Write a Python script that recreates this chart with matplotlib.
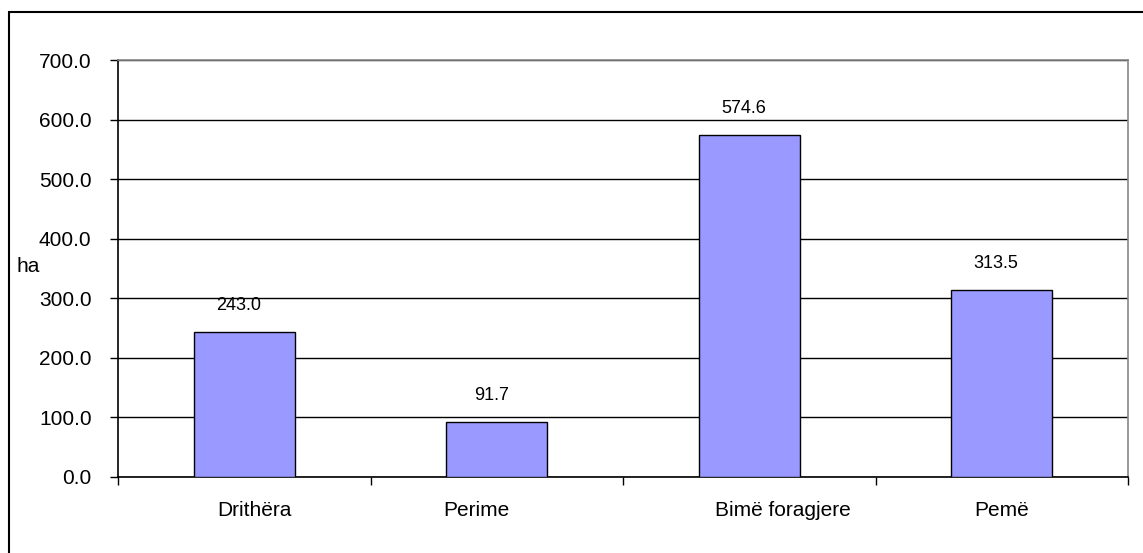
import matplotlib
matplotlib.use("Agg")
import matplotlib.pyplot as plt
from matplotlib.patches import Rectangle

plt.rcParams['font.family'] = ['Liberation Sans', 'DejaVu Sans']

# data
categories = ['Drithëra', 'Perime', 'Bimë foragjere', 'Pemë']
values = [243.0, 91.7, 574.6, 313.5]
yticks = [0, 100, 200, 300, 400, 500, 600, 700]

# the category labels are not centred under the bars in the original (points)
label_shift = [7, -15, 24, 0]

W, H = 1143, 553
fig = plt.figure(figsize=(W / 100, H / 100), dpi=100)

# plot area in pixels: left 118, top 60, right 1128, bottom 477
ax = fig.add_axes([118 / W, 1 - 477 / H, (1128 - 118) / W, (477 - 60) / H])

x = list(range(len(categories)))
ax.bar(x, values, width=0.4, color='#9999FF', edgecolor='black', linewidth=1, zorder=3)

for xi, v in zip(x, values):
    ax.annotate('%.1f' % v, (xi, v), xytext=(-4, 13), textcoords='offset points',
                ha='center', va='bottom', fontsize=13)

ax.set_xlim(-0.5, len(categories) - 0.5)
ax.set_ylim(0, 700)
ax.set_yticks(yticks)
ax.set_yticklabels(['%.1f' % t for t in yticks], fontsize=15)
ax.yaxis.grid(True, color='black', linewidth=1, zorder=0)
ax.set_axisbelow(True)

# category ticks sit between the categories
ax.set_xticks([i - 0.5 for i in range(len(categories) + 1)])
ax.set_xticklabels([])
ax.tick_params(axis='x', which='major', length=6, width=1, direction='out')
ax.tick_params(axis='y', length=6, width=1, direction='out', pad=13)

for xi, name, dx in zip(x, categories, label_shift):
    ax.annotate(name, (xi, 0), xycoords=('data', 'axes fraction'),
                xytext=(dx, -24), textcoords='offset points',
                ha='center', va='center', fontsize=15, annotation_clip=False)

for s in ['left', 'bottom']:
    ax.spines[s].set_color('black')
    ax.spines[s].set_linewidth(1.2)
for s in ['top', 'right']:
    ax.spines[s].set_color('#888888')
    ax.spines[s].set_linewidth(1.2)

fig.text(16 / W, 1 - 267 / H, 'ha', fontsize=15, ha='left', va='center')

# outer chart frame (right and bottom edges fall outside the image)
fig.patches.append(Rectangle((9 / W, -0.1), 1.2, 1 - 12 / H + 0.1,
                             transform=fig.transFigure, fill=False,
                             edgecolor='black', linewidth=1.5))

fig.savefig('out.png', dpi=100)
